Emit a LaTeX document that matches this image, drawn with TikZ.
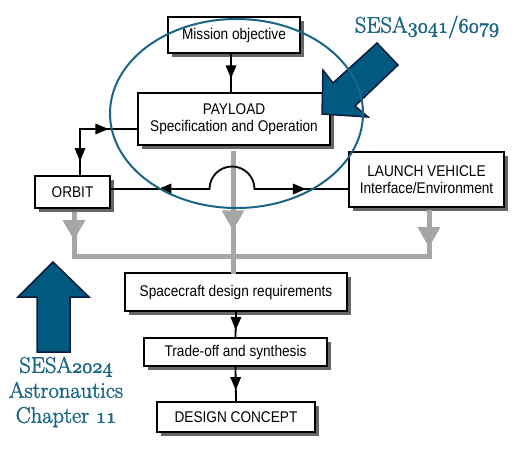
\documentclass[tikz,border=0pt]{standalone}
\usepackage{fontspec}
\newfontfamily\boxfont{Liberation Sans}[FakeStretch=0.88]
\usepackage{tikz}
\usetikzlibrary{shapes,arrows.meta,positioning,calc,shadows,decorations.markings}
\definecolor{sesablue}{HTML}{005A80}
\definecolor{sesaline}{HTML}{0B1B3B}
\definecolor{sesatext}{HTML}{1A6585}
\definecolor{linkgray}{HTML}{A6A6A6}
\newcommand{\heavytext}[1]{\special{pdf:literal direct 2 Tr 0.45 w}#1\special{pdf:literal direct 0 Tr}}

\begin{document}
\begin{tikzpicture}[x=1pt,y=-1pt,
    box/.style={draw,line width=2.2pt,fill=white,inner sep=0pt,align=center,
        font=\boxfont\fontsize{15.5}{17.5}\selectfont,
        drop shadow={shadow xshift=4pt,shadow yshift=-4pt,fill=black!60,opacity=1}},
    flow/.style={line width=1.8pt,line cap=rect},
    midarrow/.style={postaction={decorate},decoration={markings,
        mark=at position #1 with {\arrow{Triangle[length=13pt,width=11pt,line width=0pt]}}}},
    grayflow/.style={draw=linkgray,line width=5pt,line cap=rect},
    grayarrow/.style={postaction={decorate},decoration={markings,
        mark=at position #1 with {\arrow[linkgray]{Triangle[length=20pt,width=23pt,line width=0pt]}}}},
    bluetext/.style={text=sesatext,font=\fontsize{22.5}{25}\selectfont,align=center}]
    \useasboundingbox (0,0) rectangle (518,451);

    % boxes
    \node[box,minimum width=132pt,minimum height=36pt] (mission) at (234,35) {Mission objective};
    \node[box,minimum width=192pt,minimum height=52pt] (payload) at (234,119) {PAYLOAD\\Specification and Operation};
    \node[box,minimum width=75pt,minimum height=32pt] (orbit) at (72.5,192) {ORBIT};
    \node[box,minimum width=155pt,minimum height=55pt] (lv) at (426.5,179.5) {LAUNCH VEHICLE\\Interface/Environment};
    \node[box,minimum width=222pt,minimum height=38pt] (spec) at (236,292) {Spacecraft design requirements};
    \node[box,minimum width=183pt,minimum height=28pt] (trade) at (235.5,352) {Trade-off and synthesis};
    \node[box,minimum width=158pt,minimum height=30pt] (concept) at (236,417) {DESIGN CONCEPT};

    % gray requirement bus
    \coordinate (busL) at (74,256);
    \coordinate (busR) at (429,256);
    \coordinate (orbitdrop) at (74,214);
    \coordinate (lvdrop) at (429,212);
    \coordinate (payloaddrop) at (233,153);
    \draw[grayflow] (busL) -- (busR);
    \draw[grayflow,grayarrow=0.62] (orbitdrop) -- (busL);
    \draw[grayflow,grayarrow=0.8] (lvdrop) -- (busR);
    \draw[grayflow,grayarrow=0.65] (payloaddrop) -- (payloaddrop |- spec.north);

    % black links
    \draw[flow,midarrow=0.64] ([xshift=-3pt]mission.south) -- ([xshift=-3pt]payload.north);
    \coordinate (corner) at (80,129);
    \draw[flow,midarrow=0.5] (corner) -- (corner -| payload.west);
    \draw[flow,midarrow=0.7] (corner) -- (corner |- orbit.north);
    \coordinate (humpL) at (209.5,189);
    \coordinate (humpR) at (254.5,189);
    \draw[flow,midarrow=0.52] (humpL) -- (humpL -| orbit.east);
    \draw[flow] (humpL) arc[start angle=180,end angle=360,radius=22.5];
    \draw[flow,midarrow=0.55] (humpR) -- (humpR -| lv.west);
    \draw[flow,midarrow=0.72] (spec.south) -- (trade.north);
    \draw[flow,midarrow=0.68] (trade.south) -- (concept.north);

    % course pointers
    \filldraw[fill=sesablue,draw=sesaline,line width=1.5pt,line join=miter]
        (323,70) -- (333,83) -- (377,43) -- (398,65) -- (355,106) -- (368,117) -- (322,114) -- cycle;
    \filldraw[fill=sesablue,draw=sesaline,line width=1.5pt,line join=miter]
        (53,262) -- (89,297) -- (70,297) -- (70,352) -- (37,352) -- (37,297) -- (18,297) -- cycle;
    \draw[sesatext,line width=2pt] (236.5,113.5) ellipse [x radius=126.5,y radius=94.5];

    \node[bluetext] (course3041) at (427,27) {\heavytext{SESA\legacyoldstylenums{3041}/\legacyoldstylenums{6079}}};
    \node[bluetext] (course2024) at (66,392) {\heavytext{SESA\legacyoldstylenums{2024}}\\\heavytext{Astronautics}\\\heavytext{Chapter \legacyoldstylenums{11}}};
\end{tikzpicture}
\end{document}
